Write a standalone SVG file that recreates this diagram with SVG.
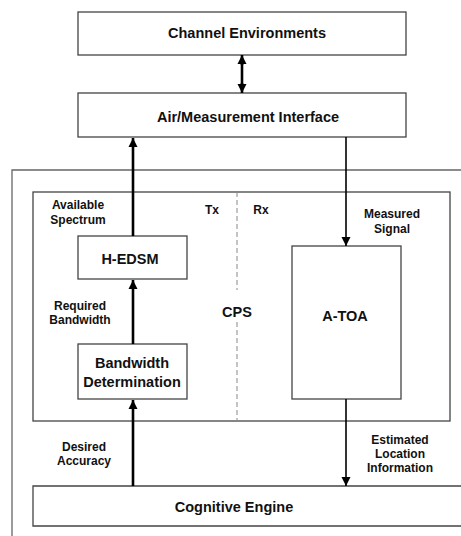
<svg xmlns="http://www.w3.org/2000/svg" width="461" height="536" viewBox="0 0 461 536">
<style>
.box{fill:#fff;stroke:#444;stroke-width:1.3}
.frame{fill:none;stroke:#666;stroke-width:1.3}
.t{font-family:"Liberation Sans",Arial,sans-serif;font-weight:bold;fill:#111;text-anchor:middle}
.big{font-size:14.5px}
.lbl{font-size:12px}
.thick{stroke:#000;stroke-width:2.6;fill:none}
.thin{stroke:#000;stroke-width:1.6;fill:none}
.dash{stroke:#888;stroke-width:1;stroke-dasharray:5,3;fill:none}
</style>
<defs>
<marker id="ah" viewBox="0 0 10 10" refX="10" refY="5" markerWidth="9" markerHeight="11" markerUnits="userSpaceOnUse" orient="auto">
<path d="M0,0 L10,5 L0,10 z" fill="#000"/>
</marker>
</defs>
<rect width="461" height="536" fill="#fff"/>
<g id="outer-frame">
<path class="frame" d="M466,170 L12,170 L12,540"/>
</g>
<g id="cps">
<rect class="frame" x="33" y="192" width="417" height="229" style="stroke:#444"/>
<path class="dash" d="M237,192 V290 M237,322 V421"/>
<text class="t" x="237" y="317" font-size="14.5">CPS</text>
<text class="t lbl" x="212" y="214">Tx</text>
<text class="t lbl" x="261" y="214">Rx</text>
</g>
<g id="channel">
<rect class="box" x="78" y="12" width="328" height="43"/>
<text class="t big" x="247" y="38">Channel Environments</text>
</g>
<g id="air">
<rect class="box" x="78" y="93" width="328" height="44"/>
<text class="t big" x="248" y="122">Air/Measurement Interface</text>
</g>
<g id="hedsm">
<rect class="box" x="78" y="236" width="109" height="43"/>
<text class="t big" x="130" y="264">H-EDSM</text>
</g>
<g id="bwdet">
<rect class="box" x="78" y="344" width="109" height="55"/>
<text class="t big" x="132" y="368">Bandwidth</text>
<text class="t big" x="132" y="387">Determination</text>
</g>
<g id="atoa">
<rect class="box" x="292" y="246" width="109" height="153"/>
<text class="t big" x="345" y="321">A-TOA</text>
</g>
<g id="cognitive">
<path class="box" d="M466,486 L33,486 L33,526 L466,526"/>
<text class="t big" x="234" y="512">Cognitive Engine</text>
</g>
<g id="connectors">
<line class="thick" x1="242" y1="64" x2="242" y2="84"/>
<line class="thick" x1="242" y1="65" x2="242" y2="55" marker-end="url(#ah)"/>
<line class="thick" x1="242" y1="83" x2="242" y2="93" marker-end="url(#ah)"/>
<line class="thick" x1="133" y1="236" x2="133" y2="138" marker-end="url(#ah)"/>
<line class="thin" x1="346" y1="137" x2="346" y2="246" marker-end="url(#ah)"/>
<line class="thick" x1="133" y1="344" x2="133" y2="280" marker-end="url(#ah)"/>
<line class="thin" x1="346" y1="399" x2="346" y2="486" marker-end="url(#ah)"/>
<line class="thick" x1="133" y1="486" x2="133" y2="400" marker-end="url(#ah)"/>
</g>
<g id="labels">
<text class="t lbl" x="78" y="209">Available</text>
<text class="t lbl" x="78" y="224">Spectrum</text>
<text class="t lbl" x="80" y="310">Required</text>
<text class="t lbl" x="80" y="324">Bandwidth</text>
<text class="t lbl" x="84" y="451">Desired</text>
<text class="t lbl" x="84" y="465">Accuracy</text>
<text class="t lbl" x="392" y="218">Measured</text>
<text class="t lbl" x="392" y="233">Signal</text>
<text class="t lbl" x="400" y="444">Estimated</text>
<text class="t lbl" x="400" y="458">Location</text>
<text class="t lbl" x="400" y="472">Information</text>
</g>
</svg>
